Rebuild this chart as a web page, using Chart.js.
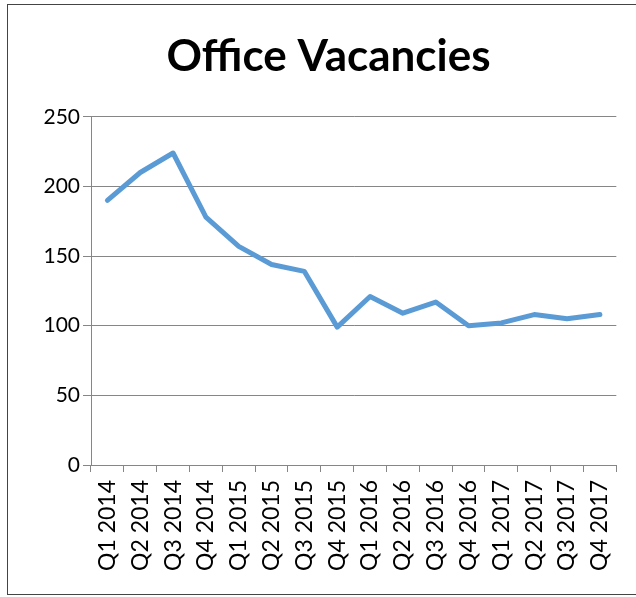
<!DOCTYPE html>
<html>
<head>
<meta charset="utf-8">
<script src="https://cdn.jsdelivr.net/npm/chart.js@4/dist/chart.umd.min.js"></script>
<style>
  html, body { margin: 0; padding: 0; background: #fff; overflow: hidden; }
  #frame { position: absolute; left: 7px; top: 4px; width: 640px; height: 591px; border: 1px solid #444; box-sizing: border-box; }
  #wrap { position: absolute; left: 0; top: 0; width: 636px; height: 597px; }
</style>
</head>
<body>
<div id="frame"></div>
<div id="wrap"><canvas id="chart"></canvas></div>
<script>
/* ---------- DATA ---------- */
const quarters = [
  'Q1 2014', 'Q2 2014', 'Q3 2014', 'Q4 2014',
  'Q1 2015', 'Q2 2015', 'Q3 2015', 'Q4 2015',
  'Q1 2016', 'Q2 2016', 'Q3 2016', 'Q4 2016',
  'Q1 2017', 'Q2 2017', 'Q3 2017', 'Q4 2017'
];
const vacancies = [190, 210, 224, 178, 157, 144, 139, 99, 121, 109, 117, 100, 102, 108, 105, 108];
const yTicks = [0, 50, 100, 150, 200, 250];

const gridGray = '#868686';
const fontFamily = 'Lato, "Noto Sans", sans-serif';

new Chart(document.getElementById('chart'), {
  type: 'line',
  data: {
    labels: quarters,
    datasets: [{
      label: 'Office Vacancies',
      data: vacancies,
      borderColor: '#5B9BD5',
      borderWidth: 5,
      borderCapStyle: 'round',
      borderJoinStyle: 'round',
      pointRadius: 0,
      tension: 0,
      fill: false
    }]
  },
  options: {
    responsive: true,
    maintainAspectRatio: false,
    animation: false,
    // left padding also shifts the title centre to match the reference
    layout: { padding: { top: 20, left: 37, right: 16, bottom: 0 } },
    plugins: {
      legend: { display: false },
      tooltip: { enabled: false },
      title: {
        display: true,
        text: 'Office Vacancies',
        color: '#000',
        font: { family: fontFamily, size: 44, weight: 'bold' },
        padding: { top: 10, bottom: 34 }
      }
    },
    scales: {
      x: {
        offset: true,
        grid: { offset: true, drawOnChartArea: false, drawTicks: true, tickLength: 7, color: gridGray },
        border: { color: gridGray },
        ticks: {
          color: '#000',
          minRotation: 90, maxRotation: 90,
          padding: 8,
          autoSkip: false,
          font: { family: fontFamily, size: 23 }
        },
        afterFit: s => { s.height = 132; }
      },
      y: {
        min: 0, max: 250,
        afterBuildTicks: s => { s.ticks = yTicks.map(v => ({ value: v })); },
        grid: { color: gridGray, tickLength: 8 },
        border: { color: gridGray },
        ticks: {
          color: '#000',
          padding: 3,
          font: { family: fontFamily, size: 21 }
        },
        afterFit: s => { s.width = 54; }
      }
    }
  }
});
</script>
</body>
</html>
